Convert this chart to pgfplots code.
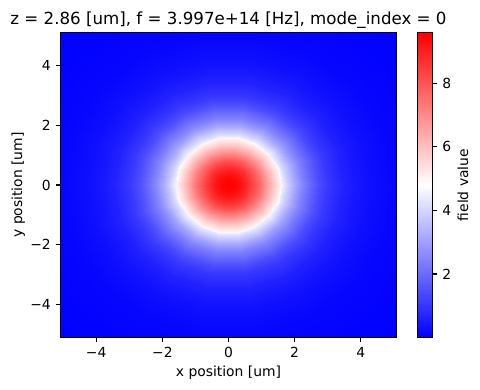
\documentclass[border=0pt]{standalone}
\usepackage{pgfplots}
\pgfplotsset{compat=1.18}
\usepackage{fontspec}
\setmainfont{DejaVu Sans}
\pgfplotsset{
  bwrmap/.style={colormap={bwr}{rgb255=(0,0,255) rgb255=(255,255,255) rgb255=(255,0,0)}},
  mplstyle/.style={
    /pgf/number format/assume math mode=true,
    tick align=outside, major tick length=3.5pt,
    every tick/.style={black, line width=0.8pt},
    axis line style={line width=0.8pt},
    point meta min=0, point meta max=9.6,
    bwrmap, axis on top, scale only axis,
  },
}
\begin{document}
\begin{tikzpicture}
\useasboundingbox (-43.56pt,-37.8pt) rectangle (302.04pt,243.0pt);
\begin{axis}[
  mplstyle,
  at={(0pt,0pt)}, anchor=south west,
  width=241.92pt, height=219.6pt,
  xmin=-5.08, xmax=5.08, ymin=-5.1, ymax=5.1,
  tick pos=left,
  xtick={-4,-2,0,2,4}, xticklabels={−4,−2,0,2,4},
  ytick={-4,-2,0,2,4}, yticklabels={−4,−2,0,2,4},
  title={z = 2.86 [um], f = 3.997e+14 [Hz], mode\_index = 0},
  title style={at={(axis description cs:0.5,1)}, anchor=base, yshift=-0.2pt, font=\fontsize{12}{14}\selectfont},
  xlabel={x position [um]},
  xlabel style={at={(axis description cs:0.5,-0.127)}, anchor=base},
  ylabel={y position [um]},
  ylabel style={at={(axis description cs:-0.1145,0.5)}, anchor=base},
]
\addplot[surf, shader=interp, data cs=polar, point meta=explicit, mesh/rows=24, mesh/cols=19] coordinates {
(0,0) [9.60] (20,0) [9.60] (40,0) [9.60] (60,0) [9.60] (80,0) [9.60] (100,0) [9.60] (120,0) [9.60] (140,0) [9.60] (160,0) [9.60] (180,0) [9.60] (200,0) [9.60] (220,0) [9.60] (240,0) [9.60] (260,0) [9.60] (280,0) [9.60] (300,0) [9.60] (320,0) [9.60] (340,0) [9.60] (360,0) [9.60]

(0,0.2) [9.50] (20,0.2) [9.50] (40,0.2) [9.50] (60,0.2) [9.50] (80,0.2) [9.50] (100,0.2) [9.50] (120,0.2) [9.50] (140,0.2) [9.50] (160,0.2) [9.50] (180,0.2) [9.50] (200,0.2) [9.50] (220,0.2) [9.50] (240,0.2) [9.50] (260,0.2) [9.50] (280,0.2) [9.50] (300,0.2) [9.50] (320,0.2) [9.50] (340,0.2) [9.50] (360,0.2) [9.50]

(0,0.4) [9.20] (20,0.4) [9.20] (40,0.4) [9.20] (60,0.4) [9.20] (80,0.4) [9.20] (100,0.4) [9.20] (120,0.4) [9.20] (140,0.4) [9.20] (160,0.4) [9.20] (180,0.4) [9.20] (200,0.4) [9.20] (220,0.4) [9.20] (240,0.4) [9.20] (260,0.4) [9.20] (280,0.4) [9.20] (300,0.4) [9.20] (320,0.4) [9.20] (340,0.4) [9.20] (360,0.4) [9.20]

(0,0.6) [8.72] (20,0.6) [8.72] (40,0.6) [8.72] (60,0.6) [8.72] (80,0.6) [8.72] (100,0.6) [8.72] (120,0.6) [8.72] (140,0.6) [8.72] (160,0.6) [8.72] (180,0.6) [8.72] (200,0.6) [8.72] (220,0.6) [8.72] (240,0.6) [8.72] (260,0.6) [8.72] (280,0.6) [8.72] (300,0.6) [8.72] (320,0.6) [8.72] (340,0.6) [8.72] (360,0.6) [8.72]

(0,0.8) [8.09] (20,0.8) [8.09] (40,0.8) [8.09] (60,0.8) [8.09] (80,0.8) [8.09] (100,0.8) [8.09] (120,0.8) [8.09] (140,0.8) [8.09] (160,0.8) [8.09] (180,0.8) [8.09] (200,0.8) [8.09] (220,0.8) [8.09] (240,0.8) [8.09] (260,0.8) [8.09] (280,0.8) [8.09] (300,0.8) [8.09] (320,0.8) [8.09] (340,0.8) [8.09] (360,0.8) [8.09]

(0,1.0) [7.35] (20,1.0) [7.35] (40,1.0) [7.35] (60,1.0) [7.35] (80,1.0) [7.35] (100,1.0) [7.35] (120,1.0) [7.35] (140,1.0) [7.35] (160,1.0) [7.35] (180,1.0) [7.35] (200,1.0) [7.35] (220,1.0) [7.35] (240,1.0) [7.35] (260,1.0) [7.35] (280,1.0) [7.35] (300,1.0) [7.35] (320,1.0) [7.35] (340,1.0) [7.35] (360,1.0) [7.35]

(0,1.2) [6.53] (20,1.2) [6.53] (40,1.2) [6.53] (60,1.2) [6.53] (80,1.2) [6.53] (100,1.2) [6.53] (120,1.2) [6.53] (140,1.2) [6.53] (160,1.2) [6.53] (180,1.2) [6.53] (200,1.2) [6.53] (220,1.2) [6.53] (240,1.2) [6.53] (260,1.2) [6.53] (280,1.2) [6.53] (300,1.2) [6.53] (320,1.2) [6.53] (340,1.2) [6.53] (360,1.2) [6.53]

(0,1.4) [5.68] (20,1.4) [5.68] (40,1.4) [5.68] (60,1.4) [5.68] (80,1.4) [5.68] (100,1.4) [5.68] (120,1.4) [5.68] (140,1.4) [5.68] (160,1.4) [5.68] (180,1.4) [5.68] (200,1.4) [5.68] (220,1.4) [5.68] (240,1.4) [5.68] (260,1.4) [5.68] (280,1.4) [5.68] (300,1.4) [5.68] (320,1.4) [5.68] (340,1.4) [5.68] (360,1.4) [5.68]

(0,1.5) [5.30] (20,1.5) [5.30] (40,1.5) [5.30] (60,1.5) [5.30] (80,1.5) [5.30] (100,1.5) [5.30] (120,1.5) [5.30] (140,1.5) [5.30] (160,1.5) [5.30] (180,1.5) [5.30] (200,1.5) [5.30] (220,1.5) [5.30] (240,1.5) [5.30] (260,1.5) [5.30] (280,1.5) [5.30] (300,1.5) [5.30] (320,1.5) [5.30] (340,1.5) [5.30] (360,1.5) [5.30]

(0,1.585) [5.02] (20,1.585) [5.02] (40,1.585) [5.02] (60,1.585) [5.02] (80,1.585) [5.02] (100,1.585) [5.02] (120,1.585) [5.02] (140,1.585) [5.02] (160,1.585) [5.02] (180,1.585) [5.02] (200,1.585) [5.02] (220,1.585) [5.02] (240,1.585) [5.02] (260,1.585) [5.02] (280,1.585) [5.02] (300,1.585) [5.02] (320,1.585) [5.02] (340,1.585) [5.02] (360,1.585) [5.02]

(0,1.615) [4.50] (20,1.615) [4.50] (40,1.615) [4.50] (60,1.615) [4.50] (80,1.615) [4.50] (100,1.615) [4.50] (120,1.615) [4.50] (140,1.615) [4.50] (160,1.615) [4.50] (180,1.615) [4.50] (200,1.615) [4.50] (220,1.615) [4.50] (240,1.615) [4.50] (260,1.615) [4.50] (280,1.615) [4.50] (300,1.615) [4.50] (320,1.615) [4.50] (340,1.615) [4.50] (360,1.615) [4.50]

(0,1.7) [4.18] (20,1.7) [4.18] (40,1.7) [4.18] (60,1.7) [4.18] (80,1.7) [4.18] (100,1.7) [4.18] (120,1.7) [4.18] (140,1.7) [4.18] (160,1.7) [4.18] (180,1.7) [4.18] (200,1.7) [4.18] (220,1.7) [4.18] (240,1.7) [4.18] (260,1.7) [4.18] (280,1.7) [4.18] (300,1.7) [4.18] (320,1.7) [4.18] (340,1.7) [4.18] (360,1.7) [4.18]

(0,1.8) [3.82] (20,1.8) [3.82] (40,1.8) [3.82] (60,1.8) [3.82] (80,1.8) [3.82] (100,1.8) [3.82] (120,1.8) [3.82] (140,1.8) [3.82] (160,1.8) [3.82] (180,1.8) [3.82] (200,1.8) [3.82] (220,1.8) [3.82] (240,1.8) [3.82] (260,1.8) [3.82] (280,1.8) [3.82] (300,1.8) [3.82] (320,1.8) [3.82] (340,1.8) [3.82] (360,1.8) [3.82]

(0,2.0) [3.12] (20,2.0) [3.12] (40,2.0) [3.12] (60,2.0) [3.12] (80,2.0) [3.12] (100,2.0) [3.12] (120,2.0) [3.12] (140,2.0) [3.12] (160,2.0) [3.12] (180,2.0) [3.12] (200,2.0) [3.12] (220,2.0) [3.12] (240,2.0) [3.12] (260,2.0) [3.12] (280,2.0) [3.12] (300,2.0) [3.12] (320,2.0) [3.12] (340,2.0) [3.12] (360,2.0) [3.12]

(0,2.25) [2.45] (20,2.25) [2.45] (40,2.25) [2.45] (60,2.25) [2.45] (80,2.25) [2.45] (100,2.25) [2.45] (120,2.25) [2.45] (140,2.25) [2.45] (160,2.25) [2.45] (180,2.25) [2.45] (200,2.25) [2.45] (220,2.25) [2.45] (240,2.25) [2.45] (260,2.25) [2.45] (280,2.25) [2.45] (300,2.25) [2.45] (320,2.25) [2.45] (340,2.25) [2.45] (360,2.25) [2.45]

(0,2.5) [1.90] (20,2.5) [1.90] (40,2.5) [1.90] (60,2.5) [1.90] (80,2.5) [1.90] (100,2.5) [1.90] (120,2.5) [1.90] (140,2.5) [1.90] (160,2.5) [1.90] (180,2.5) [1.90] (200,2.5) [1.90] (220,2.5) [1.90] (240,2.5) [1.90] (260,2.5) [1.90] (280,2.5) [1.90] (300,2.5) [1.90] (320,2.5) [1.90] (340,2.5) [1.90] (360,2.5) [1.90]

(0,2.75) [1.42] (20,2.75) [1.42] (40,2.75) [1.42] (60,2.75) [1.42] (80,2.75) [1.42] (100,2.75) [1.42] (120,2.75) [1.42] (140,2.75) [1.42] (160,2.75) [1.42] (180,2.75) [1.42] (200,2.75) [1.42] (220,2.75) [1.42] (240,2.75) [1.42] (260,2.75) [1.42] (280,2.75) [1.42] (300,2.75) [1.42] (320,2.75) [1.42] (340,2.75) [1.42] (360,2.75) [1.42]

(0,3.0) [1.05] (20,3.0) [1.05] (40,3.0) [1.05] (60,3.0) [1.05] (80,3.0) [1.05] (100,3.0) [1.05] (120,3.0) [1.05] (140,3.0) [1.05] (160,3.0) [1.05] (180,3.0) [1.05] (200,3.0) [1.05] (220,3.0) [1.05] (240,3.0) [1.05] (260,3.0) [1.05] (280,3.0) [1.05] (300,3.0) [1.05] (320,3.0) [1.05] (340,3.0) [1.05] (360,3.0) [1.05]

(0,3.5) [0.62] (20,3.5) [0.62] (40,3.5) [0.62] (60,3.5) [0.62] (80,3.5) [0.62] (100,3.5) [0.62] (120,3.5) [0.62] (140,3.5) [0.62] (160,3.5) [0.62] (180,3.5) [0.62] (200,3.5) [0.62] (220,3.5) [0.62] (240,3.5) [0.62] (260,3.5) [0.62] (280,3.5) [0.62] (300,3.5) [0.62] (320,3.5) [0.62] (340,3.5) [0.62] (360,3.5) [0.62]

(0,4.0) [0.37] (20,4.0) [0.37] (40,4.0) [0.37] (60,4.0) [0.37] (80,4.0) [0.37] (100,4.0) [0.37] (120,4.0) [0.37] (140,4.0) [0.37] (160,4.0) [0.37] (180,4.0) [0.37] (200,4.0) [0.37] (220,4.0) [0.37] (240,4.0) [0.37] (260,4.0) [0.37] (280,4.0) [0.37] (300,4.0) [0.37] (320,4.0) [0.37] (340,4.0) [0.37] (360,4.0) [0.37]

(0,4.5) [0.22] (20,4.5) [0.22] (40,4.5) [0.22] (60,4.5) [0.22] (80,4.5) [0.22] (100,4.5) [0.22] (120,4.5) [0.22] (140,4.5) [0.22] (160,4.5) [0.22] (180,4.5) [0.22] (200,4.5) [0.22] (220,4.5) [0.22] (240,4.5) [0.22] (260,4.5) [0.22] (280,4.5) [0.22] (300,4.5) [0.22] (320,4.5) [0.22] (340,4.5) [0.22] (360,4.5) [0.22]

(0,5.0) [0.13] (20,5.0) [0.13] (40,5.0) [0.13] (60,5.0) [0.13] (80,5.0) [0.13] (100,5.0) [0.13] (120,5.0) [0.13] (140,5.0) [0.13] (160,5.0) [0.13] (180,5.0) [0.13] (200,5.0) [0.13] (220,5.0) [0.13] (240,5.0) [0.13] (260,5.0) [0.13] (280,5.0) [0.13] (300,5.0) [0.13] (320,5.0) [0.13] (340,5.0) [0.13] (360,5.0) [0.13]

(0,6.0) [0.05] (20,6.0) [0.05] (40,6.0) [0.05] (60,6.0) [0.05] (80,6.0) [0.05] (100,6.0) [0.05] (120,6.0) [0.05] (140,6.0) [0.05] (160,6.0) [0.05] (180,6.0) [0.05] (200,6.0) [0.05] (220,6.0) [0.05] (240,6.0) [0.05] (260,6.0) [0.05] (280,6.0) [0.05] (300,6.0) [0.05] (320,6.0) [0.05] (340,6.0) [0.05] (360,6.0) [0.05]

(0,7.6) [0.01] (20,7.6) [0.01] (40,7.6) [0.01] (60,7.6) [0.01] (80,7.6) [0.01] (100,7.6) [0.01] (120,7.6) [0.01] (140,7.6) [0.01] (160,7.6) [0.01] (180,7.6) [0.01] (200,7.6) [0.01] (220,7.6) [0.01] (240,7.6) [0.01] (260,7.6) [0.01] (280,7.6) [0.01] (300,7.6) [0.01] (320,7.6) [0.01] (340,7.6) [0.01] (360,7.6) [0.01]
};
\end{axis}
\begin{axis}[
  mplstyle,
  at={(257.04pt,0pt)}, anchor=south west,
  width=10.8pt, height=219.6pt,
  xmin=0, xmax=1, ymin=0, ymax=9.6,
  xtick=\empty,
  ytick={2,4,6,8}, yticklabels={2,4,6,8},
  ytick pos=right, yticklabel pos=right,
  ylabel={field value},
  ylabel style={at={(axis description cs:3.367,0.5)}, anchor=base},
]
\addplot[surf, shader=interp, point meta=y, mesh/rows=2, mesh/cols=2] coordinates {
(0,0) (1,0)

(0,9.6) (1,9.6)
};
\end{axis}
\end{tikzpicture}
\end{document}
